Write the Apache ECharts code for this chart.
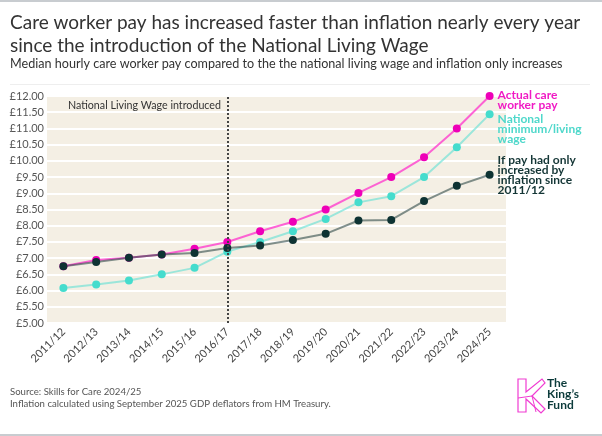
<!DOCTYPE html>
<html>
<head>
<meta charset="utf-8">
<script src="https://cdn.jsdelivr.net/npm/echarts@6/dist/echarts.min.js"></script>
<style>
  html, body { margin: 0; padding: 0; background: #fff; }
  #chart { width: 602px; height: 436px; }
</style>
</head>
<body>
<div id="chart"></div>
<script>
const years = ['2011/12', '2012/13', '2013/14', '2014/15', '2015/16', '2016/17', '2017/18',
  '2018/19', '2019/20', '2020/21', '2021/22', '2022/23', '2023/24', '2024/25']
const actualPay = [6.75, 6.94, 7.01, 7.11, 7.29, 7.50, 7.83, 8.12, 8.50, 9.01, 9.50, 10.11, 11.00, 12.00]
const livingWage = [6.08, 6.19, 6.31, 6.50, 6.70, 7.20, 7.50, 7.83, 8.21, 8.72, 8.91, 9.50, 10.42, 11.44]
const inflationOnly = [6.75, 6.88, 7.01, 7.11, 7.16, 7.31, 7.39, 7.56, 7.75, 8.16, 8.18, 8.76, 9.23, 9.57]
const yTicks = { min: 5, max: 12, step: 0.5 }
const nlwYear = '2016/17'

const font = 'Lato, "Open Sans", sans-serif'
const chart = echarts.init(document.getElementById('chart'), null, { renderer: 'canvas' })

// one series per line; end label sits right of the last point
const lineSeries = (name, data, dot, line, lineOpacity, label, labelColor, offsetY) => ({
  name,
  type: 'line',
  data,
  symbol: 'circle',
  symbolSize: 8,
  itemStyle: { color: dot },
  lineStyle: { color: line, width: 2, opacity: lineOpacity },
  emphasis: { disabled: true },
  endLabel: {
    show: true,
    formatter: label,
    color: labelColor,
    fontFamily: font,
    fontWeight: 'bold',
    fontSize: 12,
    lineHeight: 10,
    distance: 8,
    offset: [0, offsetY]
  }
})

chart.setOption({
  animation: false,
  backgroundColor: '#fff',
  textStyle: { fontFamily: font },
  grid: {
    left: 47, right: 96, top: 96, bottom: 113,
    show: true, backgroundColor: '#f4efe4', borderWidth: 0
  },
  xAxis: {
    type: 'category',
    data: years,
    boundaryGap: true,
    axisLine: { show: false },
    axisTick: { show: false },
    axisLabel: { rotate: 45, margin: 7, color: '#444', fontSize: 11, interval: 0 }
  },
  yAxis: {
    type: 'value',
    min: yTicks.min,
    max: yTicks.max,
    interval: yTicks.step,
    axisLine: { show: false },
    axisTick: { show: false },
    axisLabel: { color: '#555', fontSize: 11, margin: 3, formatter: v => '£' + v.toFixed(2) },
    splitLine: { lineStyle: { color: '#fff', width: 2 } }
  },
  series: [
    lineSeries('National minimum/living wage', livingWage, '#45dccd', '#5fe0d3', 0.6,
      'National\nminimum/living\nwage', '#4fd8cb', 15),
    lineSeries('Actual care worker pay', actualPay, '#ee00b8', '#ff33cc', 0.75,
      'Actual care\nworker pay', '#f01ac4', 4),
    Object.assign(
      lineSeries('If pay had only increased by inflation since 2011/12', inflationOnly, '#0e3333', '#2e4a48', 0.6,
        'If pay had only\nincreased by\ninflation since\n2011/12', '#143636', 0),
      {
        markLine: {
          silent: true,
          symbol: 'none',
          label: { show: false },
          lineStyle: { color: '#444', type: [2, 2], width: 2 },
          data: [{ xAxis: nlwYear }]
        }
      }
    )
  ],
  graphic: [
    { type: 'rect', shape: { x: 0, y: 0, width: 602, height: 2 }, style: { fill: '#c8ccd0' } },
    { type: 'text', left: 10, top: 11,
      style: { text: 'Care worker pay has increased faster than inflation nearly every year\nsince the introduction of the National Living Wage',
        font: '19px ' + font, fill: '#333', lineHeight: 23 } },
    { type: 'text', left: 10, top: 57,
      style: { text: 'Median hourly care worker pay compared to the the national living wage and inflation only increases',
        font: '12.6px ' + font, fill: '#333' } },
    { type: 'rect', shape: { x: 10, y: 84, width: 580, height: 1 }, style: { fill: '#eeeeee' } },
    { type: 'text', x: 221, y: 106,
      style: { text: 'National Living Wage introduced', font: '10.7px ' + font, fill: '#333',
        align: 'right', verticalAlign: 'middle' } },
    { type: 'text', left: 10, top: 386,
      style: { text: 'Source: Skills for Care 2024/25\nInflation calculated using September 2025 GDP deflators from HM Treasury.',
        font: '9.6px ' + font, fill: '#555', lineHeight: 12 } },
    // logo
    { type: 'polygon',
      shape: { points: [[518, 379], [526, 379], [526, 392], [542, 379], [545, 383], [532, 396], [545, 409], [541, 413], [526, 399], [526, 412], [518, 412]] },
      style: { fill: 'none', stroke: '#f03cd2', lineWidth: 1.2 } },
    { type: 'polyline', shape: { points: [[518, 398], [532, 396], [536, 412]] },
      style: { fill: 'none', stroke: '#f03cd2', lineWidth: 1 } },
    { type: 'text', left: 547, top: 377,
      style: { text: 'The\nKing\u2019s\nFund', font: 'bold 12px ' + font, fill: '#0c3b3b', lineHeight: 11 } },
    { type: 'rect', shape: { x: 0, y: 434, width: 602, height: 2 }, style: { fill: '#c8ccd0' } }
  ]
})
</script>
</body>
</html>
